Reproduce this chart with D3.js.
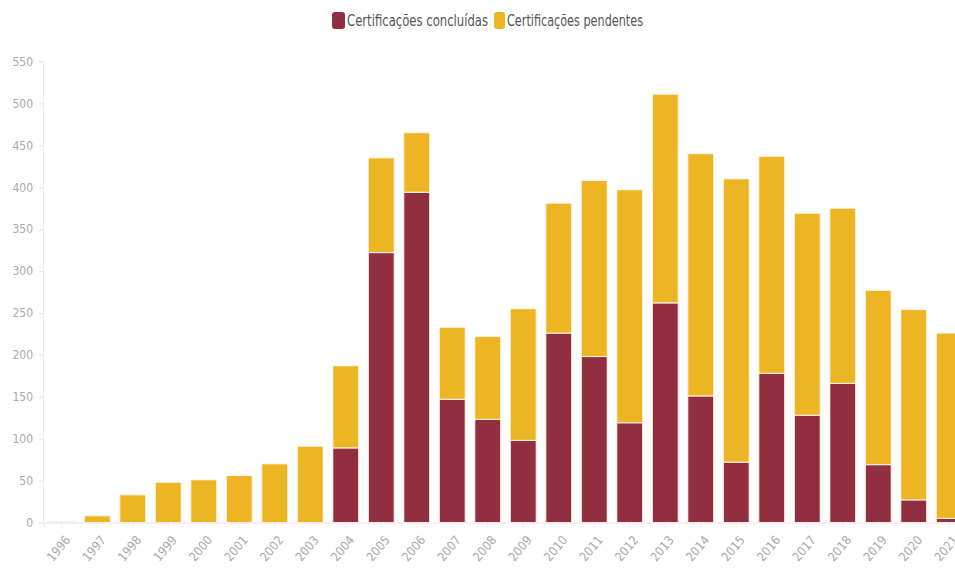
<!DOCTYPE html>
<html>
<head>
<meta charset="utf-8">
<script src="https://cdn.jsdelivr.net/npm/d3@7"></script>
<style>
  body { margin: 0; background: #fff; }
  text { font-family: 'Liberation Sans Narrow', 'DejaVu Sans Condensed', sans-serif; }
</style>
</head>
<body>
<div id="container"></div>
<script>
const years = ['1996','1997','1998','1999','2000','2001','2002','2003','2004','2005','2006','2007','2008',
  '2009','2010','2011','2012','2013','2014','2015','2016','2017','2018','2019','2020','2021'];
const concluidas = [0,0,0,0,0,0,0,0,89,322,394,147,123,98,226,198,119,262,151,72,178,128,166,69,27,5];
const pendentes = [1,8,33,48,51,56,70,91,98,113,71,86,99,157,155,210,278,249,289,338,259,241,209,208,227,221];
const seriesNames = ['Certificações concluídas', 'Certificações pendentes'];
const yTicks = [0,50,100,150,200,250,300,350,400,450,500,550];

const colors = ['#912f41', '#edb423'];
const svgWidth = 955, svgHeight = 572;
const zeroY = 522.5, topY = 61.5, left = 44;

const svg = d3.select('#container')
  .append('svg')
  .attr('width', svgWidth)
  .attr('height', svgHeight);

const rows = years.map((y, i) => ({ year: y, c: concluidas[i], p: pendentes[i] }));
const stacked = d3.stack().keys(['c', 'p'])(rows);

const step = 35.5;
const xScale = d3.scaleBand()
  .domain(years)
  .range([left, left + step * years.length])
  .paddingInner(0.27)
  .paddingOuter(0.135);

const yScale = d3.scaleLinear().domain([0, 550]).range([zeroY, topY]);

// y axis
const yAxis = d3.axisLeft(yScale).tickValues(yTicks).tickSize(4).tickPadding(6);
const gy = svg.append('g').attr('transform', `translate(${left - 1},0)`).call(yAxis);
gy.select('.domain').attr('stroke', '#ececec');
gy.selectAll('.tick line').attr('stroke', '#e6e6e6');
gy.selectAll('.tick text').attr('fill', '#a9a9a9').style('font-size', '12px');

// bars
svg.append('g')
  .selectAll('g')
  .data(stacked)
  .join('g')
  .attr('fill', (d, i) => colors[i])
  .selectAll('rect')
  .data((d) => d)
  .join('rect')
  .attr('x', (d) => xScale(d.data.year))
  .attr('y', (d) => yScale(d[1]))
  .attr('width', xScale.bandwidth())
  .attr('height', (d) => yScale(d[0]) - yScale(d[1]))
  .attr('stroke', '#fff7ea')
  .attr('stroke-width', (d) => (d[1] - d[0] > 0 ? 1 : 0));

// x axis
const xAxis = d3.axisBottom(xScale).tickSize(5).tickPadding(4);
const gx = svg.append('g').attr('transform', `translate(0,${zeroY})`).call(xAxis);
gx.select('.domain').attr('stroke', '#f3dfe2');
gx.selectAll('.tick line').attr('stroke', '#eeeeee');
gx.selectAll('.tick text')
  .attr('fill', '#a9a9a9')
  .style('font-size', '12.5px')
  .attr('text-anchor', 'end')
  .attr('x', 0)
  .attr('y', 0)
  .attr('dy', '0.35em')
  .attr('transform', 'translate(6,15) rotate(-50)');

// legend
const legend = svg.append('g');
const items = [
  { x: 332, w: 13, tx: 347, tl: 141 },
  { x: 494, w: 11, tx: 507, tl: 136 }
];
items.forEach((it, i) => {
  legend.append('rect')
    .attr('x', it.x).attr('y', 12)
    .attr('width', it.w).attr('height', 17)
    .attr('rx', 3)
    .attr('fill', colors[i]);
  legend.append('text')
    .attr('x', it.tx).attr('y', 26)
    .attr('fill', '#555')
    .style('font-size', '15px')
    .attr('textLength', it.tl)
    .attr('lengthAdjust', 'spacingAndGlyphs')
    .text(seriesNames[i]);
});
</script>
</body>
</html>
